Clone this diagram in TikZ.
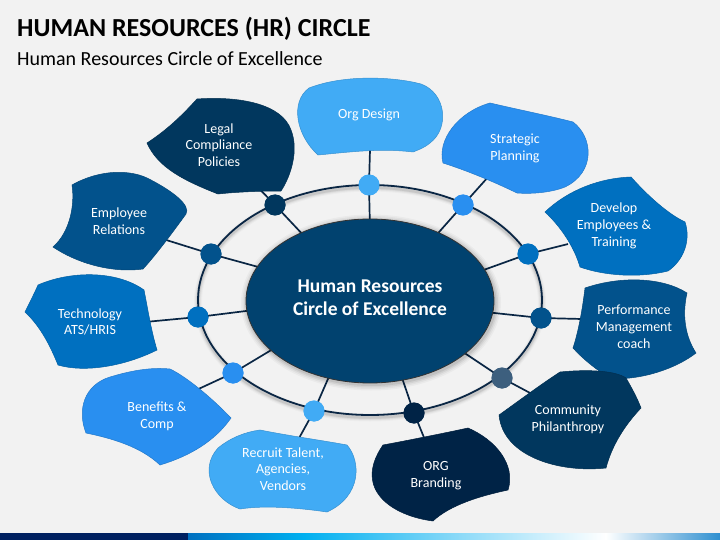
\documentclass[tikz,border=0pt]{standalone}
\usepackage{fontspec}
\setmainfont{Carlito}
\definecolor{bgc}{RGB}{242,242,242}
\definecolor{cA}{RGB}{65,171,245}
\definecolor{cB}{RGB}{41,143,240}
\definecolor{cC}{RGB}{0,112,192}
\definecolor{cD}{RGB}{2,82,140}
\definecolor{cE}{RGB}{1,55,94}
\definecolor{cF}{RGB}{0,35,70}
\definecolor{cG}{RGB}{61,95,126}
\definecolor{cCore}{RGB}{1,66,111}
\definecolor{lnc}{RGB}{10,38,68}
\definecolor{barnavy}{RGB}{0,32,96}
\definecolor{barb1}{RGB}{0,112,192}
\definecolor{barb2}{RGB}{0,176,240}
\definecolor{barb3}{RGB}{140,218,248}
\definecolor{barb4}{RGB}{46,143,208}
\begin{document}
\begin{tikzpicture}[x=1pt,y=-1pt,
  blob/.style={line width=0.5pt},
  lbl/.style={text=white, align=center, font=\fontsize{14}{16.8}\selectfont, inner sep=0pt},
  dotn/.style={circle, minimum size=21pt, inner sep=0pt},
  conn/.style={draw=lnc, line width=1.7pt},
  ttl/.style={anchor=base west, inner sep=0pt, text=black}
]
% background
\fill[bgc] (0,0) rectangle (720,540);
\useasboundingbox (0,0) rectangle (720,540);

% bottom bar
\fill[barnavy] (0,533) rectangle (188,540);
\shade[left color=barb1, right color=barb2] (188,533) rectangle (304,540);
\shade[left color=barb2, right color=barb3] (303.5,533) rectangle (460,540);
\shade[left color=barb3, right color=white] (459.5,533) rectangle (606,540);
\shade[left color=white, right color=barb4] (605.5,533) rectangle (720,540);

% titles
\node[ttl, font=\bfseries\fontsize{26}{30}\selectfont] (title) at (17,37) {HUMAN RESOURCES (HR) CIRCLE};
\node[ttl, font=\fontsize{20}{24}\selectfont] (subtitle) at (17,65.5) {Human Resources Circle of Excellence};

% connector coordinates
\coordinate (bo) at (370,150);  \coordinate (eo) at (370,230);
\coordinate (bs) at (489,176);  \coordinate (es) at (432,240);
\coordinate (bd) at (568,244);  \coordinate (ed) at (478,272);
\coordinate (bp) at (582,319);  \coordinate (ep) at (485,312);
\coordinate (bc) at (532,394);  \coordinate (ec) at (460,350);
\coordinate (bb) at (425,440);  \coordinate (eb) at (400,372);
\coordinate (br) at (298,440);  \coordinate (er) at (331,372);
\coordinate (bf) at (192,392);  \coordinate (ef) at (278,346);
\coordinate (bt) at (145,322);  \coordinate (et) at (254,310);
\coordinate (be) at (163,239);  \coordinate (ee) at (262,268);
\coordinate (bl) at (245,174);  \coordinate (el) at (306,238);

% dots (positions)
\node[dotn, fill=cA] (d1) at (369,185) {};
\node[dotn, fill=cB] (d2) at (463,205) {};
\node[dotn, fill=cC] (d3) at (528,254) {};
\node[dotn, fill=cD] (d4) at (541,318) {};
\node[dotn, fill=cG] (d5) at (502,378) {};
\node[dotn, fill=cF] (d6) at (414,413) {};
\node[dotn, fill=cA] (d7) at (314,411) {};
\node[dotn, fill=cB] (d8) at (233,373) {};
\node[dotn, fill=cC] (d9) at (198,317) {};
\node[dotn, fill=cD] (d10) at (211,254) {};
\node[dotn, fill=cE] (d11) at (275,205) {};

% connectors
\foreach \b/\d/\e in {bo/d1/eo, bs/d2/es, bd/d3/ed, bp/d4/ep, bc/d5/ec, bb/d6/eb, br/d7/er, bf/d8/ef, bt/d9/et, be/d10/ee, bl/d11/el}{
  \draw[conn] (\b) -- (\d.center) -- (\e);
}

% ring shadow and ring
\foreach \w/\o in {8/0.025, 6/0.035, 4/0.05, 2.5/0.07}{
  \draw[black, opacity=\o, line width=\w pt] (370,302.5) ellipse [x radius=172pt, y radius=115pt];
}
\draw[lnc, line width=1.8pt] (370,300) ellipse [x radius=172pt, y radius=115pt];

% core ellipse shadow
\foreach \w/\o in {12/0.03, 9/0.04, 6/0.06, 3/0.08}{
  \draw[black, opacity=\o, line width=\w pt] (371,302.5) ellipse [x radius=124pt, y radius=82pt];
}
\fill[cCore] (370,301) ellipse [x radius=124pt, y radius=82pt];
\draw[black!80, line width=0.8pt] (370,301) ellipse [x radius=124pt, y radius=82pt];
\node[text=white, align=center, font=\bfseries\fontsize{19.5}{23.3}\selectfont, inner sep=0pt] (core) at (370,298) {Human Resources\\Circle of Excellence};

% redraw dots on top
\foreach \n/\c in {d1/cA, d2/cB, d3/cC, d4/cD, d5/cG, d6/cF, d7/cA, d8/cB, d9/cC, d10/cD, d11/cE}{
  \fill[\c] (\n) circle [radius=10.5pt];
}

% blobs
% Org Design
\filldraw[blob, fill=cA, draw=cA!85!black] (318,155) .. controls (296,135) and (290,102) .. (309,88)
  .. controls (345,74) and (395,77) .. (421,84)
  .. controls (446,93) and (450,128) .. (430,143)
  .. controls (424,148) and (418,150) .. (413,152)
  .. controls (380,148) and (350,152) .. (318,155) -- cycle;
% Strategic Planning
\filldraw[blob, fill=cB, draw=cB!85!black] (490,103) .. controls (520,110) and (550,116) .. (573,122)
  .. controls (593,137) and (596,172) .. (565,187)
  .. controls (550,193) and (530,194) .. (517,193)
  .. controls (490,180) and (465,170) .. (443,163)
  .. controls (437,140) and (458,112) .. (490,103) -- cycle;
% Develop
\filldraw[blob, fill=cC, draw=cC!85!black] (545,212) .. controls (568,190) and (600,178) .. (631,177)
  .. controls (648,196) and (668,214) .. (685,222)
  .. controls (691,240) and (684,260) .. (668,271)
  .. controls (640,278) and (605,276) .. (580,267)
  .. controls (574,246) and (560,226) .. (545,212) -- cycle;
% Performance
\filldraw[blob, fill=cD, draw=cD!85!black] (585,288) .. controls (620,276) and (662,277) .. (687,293)
  .. controls (682,315) and (685,336) .. (696,353)
  .. controls (670,373) and (630,381) .. (610,378)
  .. controls (595,369) and (582,358) .. (573,348)
  .. controls (579,330) and (583,305) .. (585,288) -- cycle;
% Community
\filldraw[blob, fill=cE, draw=cE!85!black] (499,415) .. controls (520,400) and (540,385) .. (560,372)
  .. controls (590,369) and (616,371) .. (626,378)
  .. controls (633,390) and (638,400) .. (641,408)
  .. controls (625,425) and (612,445) .. (606,468)
  .. controls (560,473) and (503,457) .. (499,415) -- cycle;
% ORG Branding
\filldraw[blob, fill=cF, draw=cF!85!black] (383,445) .. controls (410,440) and (440,434) .. (468,428)
  .. controls (496,440) and (516,465) .. (508,490)
  .. controls (480,496) and (450,505) .. (433,521)
  .. controls (393,516) and (352,490) .. (383,445) -- cycle;
% Recruit
\filldraw[blob, fill=cA, draw=cA!85!black] (260,430) .. controls (290,436) and (320,440) .. (347,445)
  .. controls (361,461) and (362,496) .. (327,512)
  .. controls (300,508) and (265,505) .. (240,509)
  .. controls (214,500) and (198,470) .. (218,448)
  .. controls (230,438) and (245,432) .. (260,430) -- cycle;
% Benefits
\filldraw[blob, fill=cB, draw=cB!85!black] (170,369) .. controls (185,376) and (210,396) .. (231,418)
  .. controls (215,441) and (190,456) .. (160,465)
  .. controls (140,446) and (110,438) .. (86,433)
  .. controls (77,410) and (84,385) .. (110,377)
  .. controls (130,371) and (150,367) .. (170,369) -- cycle;
% Technology
\filldraw[blob, fill=cC, draw=cC!85!black] (38,285) .. controls (70,271) and (116,270) .. (144,290)
  .. controls (148,310) and (151,330) .. (157,350)
  .. controls (125,366) and (85,373) .. (58,365)
  .. controls (50,345) and (40,326) .. (25,312)
  .. controls (30,302) and (35,292) .. (38,285) -- cycle;
% Employee Relations
\filldraw[blob, fill=cD, draw=cD!85!black] (72,185) .. controls (100,169) and (132,169) .. (151,180)
  .. controls (172,191) and (191,205) .. (186,214)
  .. controls (170,236) and (155,256) .. (143,269)
  .. controls (115,273) and (80,265) .. (53,247)
  .. controls (70,232) and (75,205) .. (72,185) -- cycle;
% Legal
\filldraw[blob, fill=cE, draw=cE!85!black] (147,143) .. controls (170,128) and (185,112) .. (197,99)
  .. controls (240,96) and (282,104) .. (291,130)
  .. controls (299,150) and (291,176) .. (281,191)
  .. controls (260,191) and (236,192) .. (218,194)
  .. controls (185,181) and (158,168) .. (147,143) -- cycle;

% labels
\node[lbl] (t1) at (369,115) {Org Design};
\node[lbl] (t2) at (515,148) {Strategic\\Planning};
\node[lbl] (t3) at (614,226) {Develop\\Employees \&\\Training};
\node[lbl] (t4) at (634,327) {Performance\\Management\\coach};
\node[lbl] (t5) at (568,419) {Community\\Philanthropy};
\node[lbl] (t6) at (436,476) {ORG\\Branding};
\node[lbl] (t7) at (283,469) {Recruit Talent,\\Agencies,\\Vendors};
\node[lbl] (t8) at (157,416) {Benefits \&\\Comp};
\node[lbl] (t9) at (90,322) {Technology\\ATS/HRIS};
\node[lbl] (t10) at (119,221) {Employee\\Relations};
\node[lbl] (t11) at (219,145) {Legal\\Compliance\\Policies};
\end{tikzpicture}
\end{document}
